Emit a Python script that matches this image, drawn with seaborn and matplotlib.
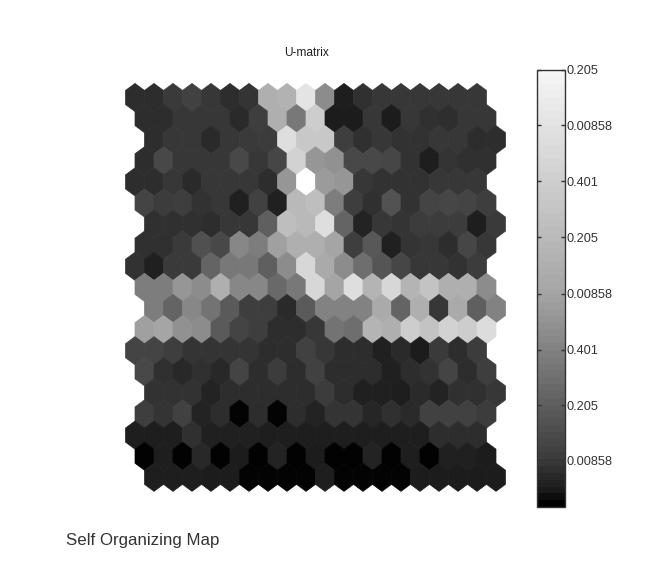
import numpy as np
import pandas as pd
import matplotlib
matplotlib.use("Agg")
import matplotlib.pyplot as plt
from matplotlib.path import Path
from matplotlib.colors import LinearSegmentedColormap, Normalize
from matplotlib.cm import ScalarMappable
import seaborn as sns

# U-matrix cell levels, one list per hexagon row, top to bottom (0 = black, 255 = white)
row00 = [45,45,58,65,55,45,52,175,178,228,140,30,48,55,55,55,55,55,55]
row01 = [45,45,55,55,55,42,62,175,120,205,28,28,55,28,55,48,46,55,55]
row02 = [45,55,55,42,55,58,60,222,200,200,62,48,55,50,50,55,55,45,45]
row03 = [45,72,55,55,55,72,55,70,210,150,145,72,72,70,50,30,52,48,48]
row04 = [45,45,55,42,55,55,55,45,150,255,155,150,55,50,50,50,55,55,55]
row05 = [68,60,62,50,55,32,65,32,185,190,125,62,48,82,50,68,70,68,62]
row06 = [48,48,48,45,55,55,95,190,185,222,100,35,55,52,60,60,60,30,58]
row07 = [48,48,58,80,72,135,125,160,175,175,165,62,88,32,52,55,45,70,55]
row08 = [50,32,58,58,100,120,120,95,140,215,170,140,110,85,70,55,55,50,60]
row09 = [125,125,150,140,175,135,135,105,120,215,165,222,180,215,180,195,175,175,140]
row10 = [125,100,135,115,90,62,62,42,90,130,130,130,170,100,175,55,170,95,130]
row11 = [160,165,145,140,90,68,62,45,45,55,115,110,180,175,205,195,210,205,220]
row12 = [68,68,62,52,52,52,52,45,45,65,55,45,45,32,42,28,58,45,60]
row13 = [72,48,40,48,40,68,45,60,45,65,45,45,45,32,45,50,68,45,62]
row14 = [50,50,50,35,45,45,45,45,45,60,45,32,32,30,42,35,48,48,55]
row15 = [62,52,65,35,45,3,45,3,45,35,52,52,38,48,42,65,65,65,60]
row16 = [30,30,30,48,32,32,32,30,30,30,30,30,30,30,30,30,45,45,45]
row17 = [2,30,2,40,2,28,2,35,2,28,2,2,35,2,30,2,32,32,28]
row18 = [30,30,30,28,28,3,3,3,3,30,3,3,3,3,28,28,28,28,28]
rows = [row00,row01,row02,row03,row04,row05,row06,row07,row08,row09,
        row10,row11,row12,row13,row14,row15,row16,row17,row18]

# Sideways shift of each row, in cells
row_shift = [0,.5,1,.5,0,.5,1,.5,0,.5,1,.5,0,.5,1,.5,0,.5,1]

# Colour bar
bar_levels = [0,25,60,95,130,165,185,205,225,245]
bar_stops = [0,.03,.107,.233,.36,.49,.615,.74,.87,1]
bar_ticks = [0.107,0.233,0.36,0.488,0.617,0.745,0.873,1.0]
bar_labels = ["0.00858","0.205","0.401","0.00858","0.205","0.401","0.00858","0.205"]

title = "U-matrix"
caption = "Self Organizing Map"

W, H = 662, 576
sns.set_theme(style="white")
plt.rcParams["font.family"] = ["Liberation Sans", "DejaVu Sans"]
fig = plt.figure(figsize=(W/100, H/100), dpi=100, facecolor="white")

# Map axes: one data unit is one cell
cw, rh = 19.0, 21.1
x0, y0 = 135.0, 97.5
L, R, T, B = 116.0, 516.0, 76.0, 500.0
ax = fig.add_axes([L/W, 1-B/H, (R-L)/W, (B-T)/H])

df = pd.DataFrame(
    [{"col": j + row_shift[i], "row": i, "level": v}
     for i, r in enumerate(rows) for j, v in enumerate(r)]
)

hw = cw / (rh / .75)
hex_marker = Path([(0,1),(hw,.5),(hw,-.5),(0,-1),(-hw,-.5),(-hw,.5),(0,1)], closed=True)
size_pt = (rh/.75) * .72

sns.scatterplot(data=df, x="col", y="row", hue="level", palette="gray",
                hue_norm=(0,255), marker=hex_marker, s=size_pt**2,
                linewidth=0.5, edgecolor="face", legend=False, ax=ax, clip_on=False)
ax.set_xlim((L-x0)/cw, (R-x0)/cw)
ax.set_ylim((B-y0)/rh, (T-y0)/rh)
ax.axis("off")

fig.text(307/W, 1-53/H, title, ha="center", va="center", fontsize=8.6, color="#222222")
fig.text(66/W, 1-540/H, caption, ha="left", va="center", fontsize=12.2, color="#333333")

# Colour bar
cax = fig.add_axes([536.5/W, 1-507/H, 28.5/W, 437/H])
cmap = LinearSegmentedColormap.from_list(
    "bar", [(s, (v/255, v/255, v/255)) for s, v in zip(bar_stops, bar_levels)], N=64)
cb = fig.colorbar(ScalarMappable(Normalize(0,1), cmap), cax=cax)
cb.set_ticks(bar_ticks)
cb.set_ticklabels(bar_labels)
cax.set_axisbelow(False)
cax.tick_params(axis="y", which="both", direction="in", length=3, width=1, color="#333333",
                left=True, right=True, labelsize=9.2, labelcolor="#333333", pad=1)
cb.outline.set_edgecolor("#333333")
cb.outline.set_linewidth(1)

fig.savefig("out.png", dpi=100, facecolor="white")
